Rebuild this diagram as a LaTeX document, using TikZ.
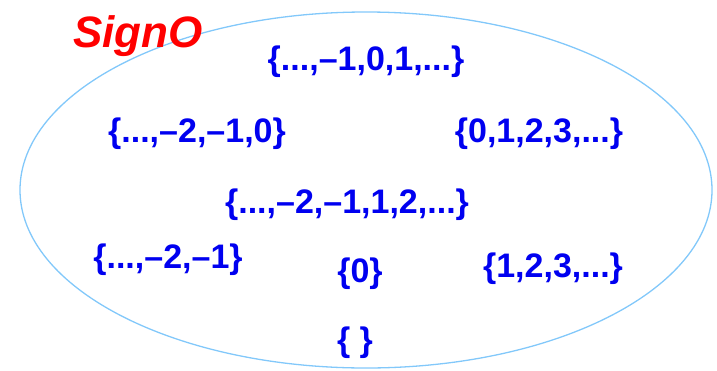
\documentclass[tikz,border=0pt]{standalone}
\usepackage{fontspec}
\setmainfont{Liberation Sans}
\definecolor{setblue}{RGB}{0,0,240}
\definecolor{rimblue}{RGB}{130,200,250}
\begin{document}
\begin{tikzpicture}[x=1pt, y=-1pt,
      setnode/.style={anchor=base, inner sep=0pt, text=setblue, font=\fontsize{34}{37}\selectfont\bfseries},
      titlenode/.style={anchor=base, inner sep=0pt, text=red, font=\fontsize{44}{47}\selectfont\bfseries\itshape},
      rimline/.style={draw=rimblue, line width=1.3pt}]
    \useasboundingbox (0,0) rectangle (717,370);
    \draw[rimline] (366,190) ellipse [x radius=346, y radius=178];
    \node[titlenode] (title) at (138,47)  {SignO};
    \node[setnode]   (z)     at (366,70)  {\{...,–1,0,1,...\}};
    \node[setnode]   (npos)  at (197,142) {\{...,–2,–1,0\}};
    \node[setnode]   (nneg)  at (539,142) {\{0,1,2,3,...\}};
    \node[setnode]   (nz)    at (347,213) {\{...,–2,–1,1,2,...\}};
    \node[setnode]   (neg)   at (168,268) {\{...,–2,–1\}};
    \node[setnode]   (zero)  at (360,282) {\{0\}};
    \node[setnode]   (pos)   at (553,277) {\{1,2,3,...\}};
    \node[setnode]   (empty) at (355,351) {\{ \}};
  \end{tikzpicture}
\end{document}
